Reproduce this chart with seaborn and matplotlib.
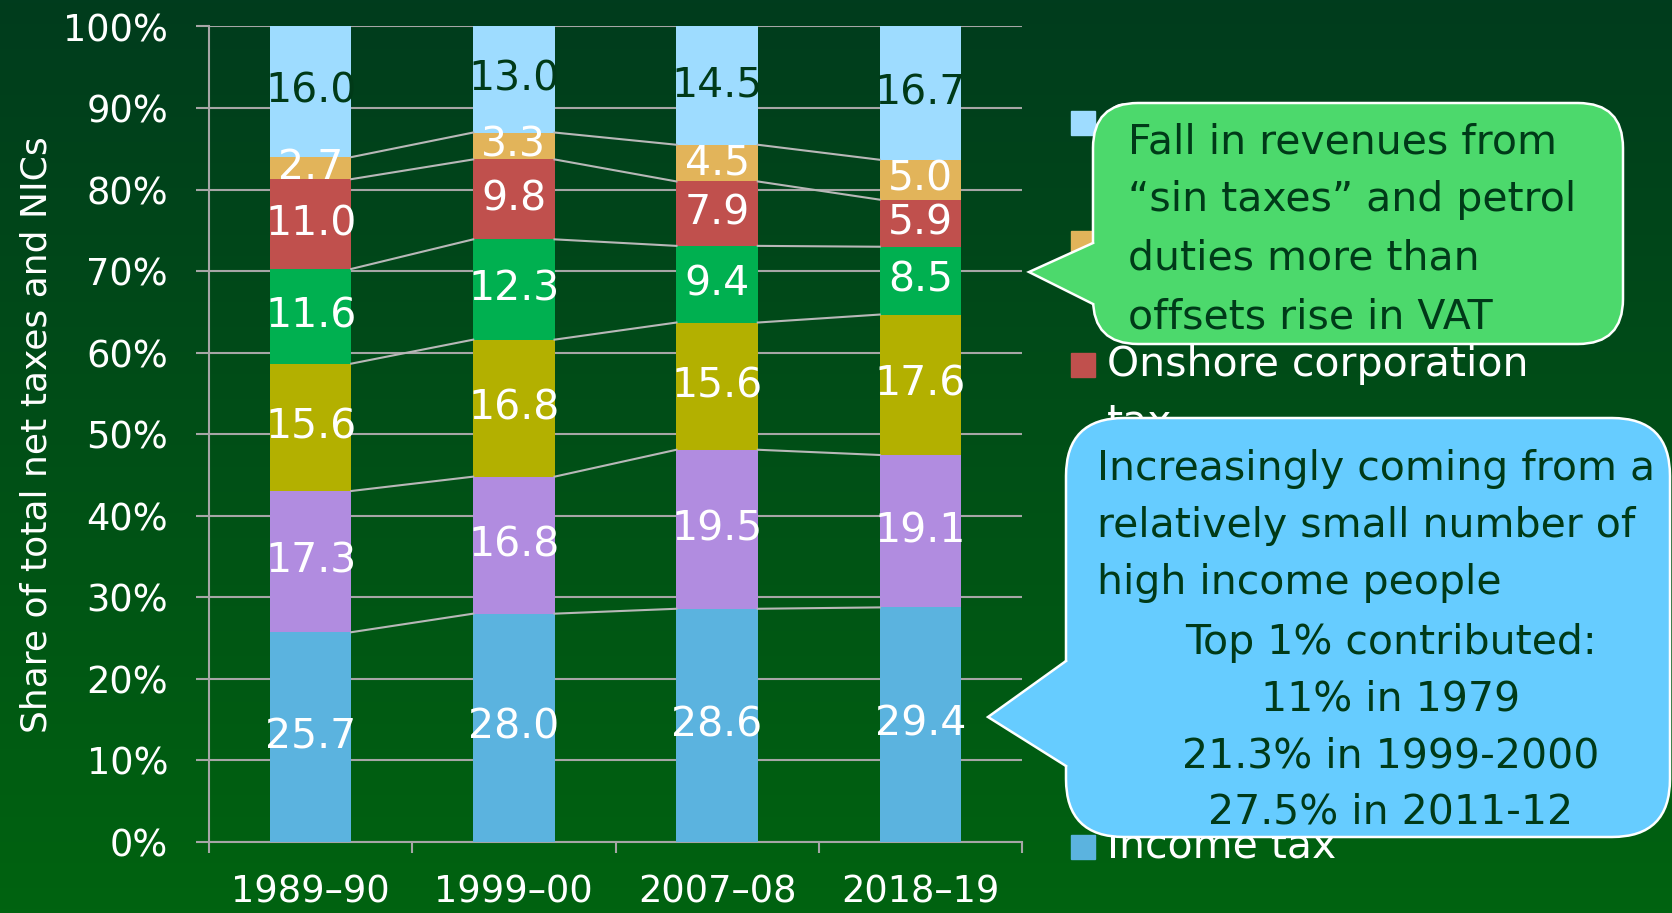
import numpy as np
import matplotlib
matplotlib.use("Agg")
import matplotlib.pyplot as plt
import seaborn as sns
from matplotlib.patches import FancyBboxPatch, Polygon, Rectangle
from matplotlib.colors import LinearSegmentedColormap

# ---------------- data ----------------
years = ["1989–90", "1999–00", "2007–08", "2018–19"]
series_names = ["Income tax", "NICs", "VAT", "Excise duties",
                "Onshore corporation\ntax", "Capital taxes", "Other"]
income_tax = [25.7, 28.0, 28.6, 29.4]
nics = [17.3, 16.8, 19.5, 19.1]
vat = [15.6, 16.8, 15.6, 17.6]
excise = [11.6, 12.3, 9.4, 8.5]
corp_tax = [11.0, 9.8, 7.9, 5.9]
capital = [2.7, 3.3, 4.5, 5.0]
other = [16.0, 13.0, 14.5, 16.7]
y_ticks = [0, 10, 20, 30, 40, 50, 60, 70, 80, 90, 100]
y_tick_labels = [f"{t}%" for t in y_ticks]
y_label = "Share of total net taxes and NICs"
callout_green = "Fall in revenues from\n“sin taxes” and petrol\nduties more than\noffsets rise in VAT"
callout_blue_left = ["Increasingly coming from a", "relatively small number of", "high income people"]
callout_blue_center = ["Top 1% contributed:", "11% in 1979", "21.3% in 1999-2000", "27.5% in 2011-12"]

colors = ["#5bb3df", "#b18ce0", "#b3b000", "#00b050", "#c0504d", "#e2b45a", "#9edcff"]
label_colors = ["white"] * 6 + ["#003a18"]

values = np.array([income_tax, nics, vat, excise, corp_tax, capital, other])
shares = values / values.sum(axis=0) * 100
cum_top = np.cumsum(shares, axis=0)
cum_bot = cum_top - shares

# ---------------- figure ----------------
W, H = 1672, 913
plt.rcParams["font.family"] = ["DejaVu Sans"]
fig = plt.figure(figsize=(W / 100, H / 100), dpi=100)

# background gradient
bg = fig.add_axes([0, 0, 1, 1], zorder=-10)
cmap = LinearSegmentedColormap.from_list("bg", ["#003c1d", "#006310"])
bg.imshow(np.linspace(0, 1, 256).reshape(-1, 1), aspect="auto", cmap=cmap,
          extent=[0, 1, 0, 1], origin="upper")
bg.axis("off")

ax = fig.add_axes([209 / W, (H - 842) / H, 813 / W, (842 - 26.5) / H], zorder=1)
ax.patch.set_alpha(0)

bar_w = 0.4
for k in range(len(series_names) - 1, -1, -1):
    sns.barplot(x=years, y=cum_top[k], color=colors[k], width=bar_w, saturation=1,
                linewidth=0, ax=ax, zorder=3)

# series lines
for k in range(len(series_names) - 1):
    for i in range(len(years) - 1):
        ax.plot([i + bar_w / 2, i + 1 - bar_w / 2], [cum_top[k][i], cum_top[k][i + 1]],
                color="#b8b8b8", lw=1.5, zorder=4)

# data labels
LBL = 29.5
for k in range(len(series_names)):
    for i in range(len(years)):
        ax.text(i, (cum_top[k][i] + cum_bot[k][i]) / 2, f"{values[k][i]:.1f}",
                ha="center", va="center", fontsize=LBL, color=label_colors[k], zorder=5)

ax.set_ylim(0, 100)
ax.set_xlim(-0.5, len(years) - 0.5)
ax.set_yticks(y_ticks)
ax.set_yticklabels(y_tick_labels)
ax.set_xticks(range(len(years)))
ax.set_xticklabels(years)
ax.set_xticks(np.arange(-0.5, len(years)), minor=True)
ax.tick_params(axis="x", which="major", length=0, pad=23, labelsize=26.5, colors="white")
ax.tick_params(axis="x", which="minor", length=8, width=1.5, color="#a6a6a6")
ax.tick_params(axis="y", length=9.5, width=1.5, color="#a6a6a6", pad=20,
               labelsize=26.5, labelcolor="white")
ax.yaxis.grid(True, color="#a6a6a6", lw=1.5, zorder=0)
ax.set_axisbelow(True)
for s in ["top", "right"]:
    ax.spines[s].set_visible(False)
for s in ["left", "bottom"]:
    ax.spines[s].set_color("#a6a6a6")
    ax.spines[s].set_linewidth(1.5)
ax.set_xlabel("")
ax.set_ylabel(y_label, fontsize=26, color="white")
ax.yaxis.set_label_coords(-0.191, 0.5)

# ---------------- overlay: legend and callouts ----------------
ov = fig.add_axes([0, 0, 1, 1], zorder=10)
ov.set_xlim(0, W)
ov.set_ylim(H, 0)
ov.axis("off")
ov.patch.set_alpha(0)

leg_rows = [847, 726, 606, 485, 365, 243, 123]  # income tax .. other
for k, yc in enumerate(leg_rows):
    ov.add_patch(Rectangle((1071, yc - 12), 24, 24, color=colors[k], zorder=1))
    lines = series_names[k].split("\n")
    for j, line in enumerate(lines):
        ov.text(1107, yc + j * 57, line, ha="left", va="center", fontsize=LBL,
                color="white", zorder=2)


def callout(x0, x1, y0, y1, r, tip, ya, yb, fc):
    ov.add_patch(FancyBboxPatch((x0, y0), x1 - x0, y1 - y0,
                                boxstyle=f"round,pad=0,rounding_size={r}",
                                fc=fc, ec="white", lw=1.8, zorder=5))
    ov.add_patch(Polygon([(x0, ya), tip, (x0, yb), (x0 + 6, yb), (x0 + 6, ya)],
                         closed=True, fc=fc, ec="none", zorder=6))
    ov.plot([x0, tip[0], x0], [ya, tip[1], yb], color="white", lw=1.8, zorder=6,
            solid_joinstyle="miter")


callout(1093, 1623, 103, 344, 45, (1029, 272), 243, 304, "#4cd96c")
callout(1066, 1670, 418, 837, 58, (988, 717), 661, 766, "#66ccff")

txt_c = "#003a18"
for j, line in enumerate(callout_green.split("\n")):
    ov.text(1128, 142 + j * 58.5, line, ha="left", va="center", fontsize=LBL,
            color=txt_c, zorder=8)
for j, line in enumerate(callout_blue_left):
    ov.text(1097, 469 + j * 57, line, ha="left", va="center", fontsize=LBL,
            color=txt_c, zorder=8)
for j, line in enumerate(callout_blue_center):
    ov.text(1391, 643 + j * 56.5, line, ha="center", va="center", fontsize=LBL,
            color=txt_c, zorder=8)

fig.savefig("out.png", dpi=100)
